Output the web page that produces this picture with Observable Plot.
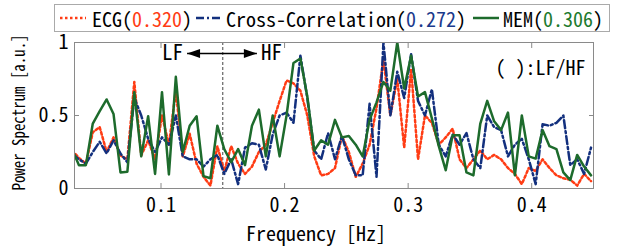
<!DOCTYPE html>
<html><head><meta charset="utf-8">
<script src="https://cdn.jsdelivr.net/npm/d3@7"></script>
<script src="https://cdn.jsdelivr.net/npm/@observablehq/plot@0.6"></script>
<style>
html,body{margin:0;padding:0;background:#fff;}
#wrap{position:relative;width:621px;height:249px;overflow:hidden;}
#legend{position:absolute;left:54px;top:4px;width:556px;height:28px;box-sizing:border-box;border:1px solid #aaa;background:#fff;display:flex;align-items:center;padding-left:5px;font-family:"Noto Sans Mono CJK JP","Noto Sans CJK JP",monospace;font-size:20px;color:#000;white-space:nowrap;}
#legend svg{flex:none;}
#legend span{display:inline-block;}
</style>
</head><body>
<div id="wrap"><div id="legend"></div></div>
<script>
// ---- data ----
const seriesNames = ["ECG", "Cross-Correlation", "MEM"];
const lfhfRatio = ["0.320", "0.272", "0.306"];
const xTicks = [0.1, 0.2, 0.3, 0.4];
const yTicks = [0, 0.5, 1];
// frequency bins k = 5 .. 80, bin width 0.0056 Hz
const binIndex = d3.range(5, 81);
const freq = binIndex.map(k => +(k * 0.0056).toFixed(4));
const ecg = [
  0.26,0.21,0.17,0.385,0.42,0.25,0.35,0.226,0.2,0.73,
  0.226,0.33,0.2,0.5,0.3,0.67,0.22,0.375,0.17,0.08,
  0.02,0.29,0.12,0.29,0.17,0.1,0.15,0.25,0.3,0.45,
  0.6,0.74,0.72,0.67,0.5,0.22,0.09,0.1,0.14,0.36,
  0.25,0.08,0.17,0.3,0.55,0.88,0.5,0.75,0.28,0.82,
  0.2,0.5,0.45,0.3,0.35,0.41,0.2,0.14,0.2,0.26,
  0.2,0.23,0.2,0.14,0.1,0.03,0.14,0.12,0.2,0.14,
  0.09,0.07,0.06,0.02,0.1,0.05
];
const crossCorr = [
  0.24,0.2,0.17,0.25,0.32,0.24,0.33,0.24,0.18,0.62,
  0.5,0.34,0.25,0.35,0.3,0.5,0.22,0.2,0.2,0.15,
  0.2,0.23,0.1,0.2,0.03,0.28,0.31,0.3,0.13,0.37,
  0.5,0.52,0.45,0.91,0.62,0.26,0.2,0.38,0.2,0.36,
  0.2,0.09,0.09,0.58,0.08,1.0,0.5,0.8,0.62,0.92,
  0.6,0.5,0.68,0.3,0.22,0.37,0.3,0.38,0.2,0.14,
  0.5,0.42,0.4,0.22,0.3,0.34,0.2,0.03,0.44,0.43,
  0.45,0.5,0.16,0.2,0.1,0.28
];
const mem = [
  0.27,0.16,0.16,0.445,0.53,0.61,0.51,0.11,0.115,0.66,
  0.22,0.495,0.10,0.66,0.096,0.765,0.25,0.43,0.495,0.085,
  0.07,0.43,0.27,0.18,0.27,0.16,0.43,0.54,0.22,0.5,
  0.22,0.5,0.86,0.89,0.63,0.26,0.33,0.30,0.47,0.35,
  0.36,0.30,0.22,0.47,0.59,0.73,0.67,1.0,0.685,0.91,
  0.63,0.66,0.48,0.29,0.125,0.365,0.365,0.11,0.09,0.445,
  0.6,0.46,0.4,0.52,0.09,0.5,0.22,0.205,0.40,0.29,
  0.27,0.11,0.057,0.23,0.15,0.09
];
const lfhfBoundary = 0.15;
const arrowLeft = 0.1211, arrowRight = 0.1776, arrowLevel = 0.925;

// ---- styles ----
const FONT = '"Noto Sans Mono CJK JP","Noto Sans CJK JP",monospace';
const RED = "#ff3c14", BLUE = "#13307e", GREEN = "#1d6b2c";
const styles = [
  {color: RED, dash: "2.5,2.5", numColor: "#ff3c14"},
  {color: BLUE, dash: "8,3,2,3", numColor: "#1b3a8c"},
  {color: GREEN, dash: null, numColor: "#1d7a2e"}
];
const seriesData = [ecg, crossCorr, mem];

const headRight = {draw(ctx){ctx.moveTo(0,0);ctx.lineTo(-13,-4.5);ctx.lineTo(-13,4.5);ctx.closePath();}};
const headLeft = {draw(ctx){ctx.moveTo(0,0);ctx.lineTo(13,-4.5);ctx.lineTo(13,4.5);ctx.closePath();}};

const lineMarks = seriesData.map((vals, s) => Plot.line(vals, {
  x: (d, i) => freq[i], y: d => d, stroke: styles[s].color, strokeWidth: 2.5,
  strokeDasharray: styles[s].dash || undefined, clip: true
}));

const chart = Plot.plot({
  width: 621, height: 249,
  marginLeft: 74, marginRight: 28, marginTop: 42, marginBottom: 61,
  style: {fontFamily: FONT, fontSize: "20px", color: "#000", background: "transparent", overflow: "visible"},
  x: {domain: [0.03, 0.45]},
  y: {domain: [0, 1]},
  marks: [
    Plot.ruleX([lfhfBoundary], {stroke: "#444", strokeDasharray: "3,2", strokeWidth: 1}),
    ...lineMarks,
    Plot.frame({stroke: "#8a8a8a"}),
    Plot.axisX(xTicks, {anchor: "bottom", tickSize: -5, tickPadding: 14, tickFormat: d3.format(".1f"), stroke: "#8a8a8a", label: null}),
    Plot.axisX(xTicks, {anchor: "top", tickSize: -5, tickFormat: () => "", stroke: "#8a8a8a", label: null}),
    Plot.axisY(yTicks, {anchor: "left", tickSize: -5, tickPadding: 11, tickFormat: d3.format("~g"), stroke: "#8a8a8a", label: null}),
    Plot.axisY(yTicks, {anchor: "right", tickSize: -5, tickFormat: () => "", stroke: "#8a8a8a", label: null}),
    Plot.link([0], {x1: arrowLeft, x2: arrowRight, y1: arrowLevel, y2: arrowLevel, stroke: "#000", strokeWidth: 1.5}),
    Plot.dot([0], {x: arrowLeft, y: arrowLevel, symbol: headLeft, fill: "#000", stroke: "none"}),
    Plot.dot([0], {x: arrowRight, y: arrowLevel, symbol: headRight, fill: "#000", stroke: "none"}),
    Plot.text(["LF"], {x: arrowLeft, y: arrowLevel, dx: -4, textAnchor: "end", fontSize: 21, fill: "#000"}),
    Plot.text(["HF"], {x: arrowRight, y: arrowLevel, dx: 4, textAnchor: "start", fontSize: 21, fill: "#000"}),
    Plot.text(["( ):LF/HF"], {frameAnchor: "top-right", dx: -8, dy: 18, textAnchor: "end", fill: "#000"}),
    Plot.text(["Power Spectrum [a.u.]"], {frameAnchor: "bottom-left", rotate: -90, dx: -50, dy: 2, textAnchor: "start", fontSize: 17, fill: "#000", className: "ytitle"}),
    Plot.text(["Frequency [Hz]"], {frameAnchor: "bottom", dx: -18, dy: 52, fill: "#000"})
  ]
});
document.getElementById("wrap").prepend(chart);
// compress the rotated y title slightly to the reference's narrow glyph width
d3.select(chart).selectAll(".ytitle text").attr("textLength", 156).attr("lengthAdjust", "spacingAndGlyphs");

// ---- legend ----
const leg = d3.select("#legend");
const gaps = [[0,6,4],[4,4,4],[7,4,0]];
seriesNames.forEach((name, s) => {
  const sv = leg.append("svg").attr("width", 26).attr("height", 10).style("margin-left", gaps[s][0] + "px").style("margin-right", gaps[s][1] + "px");
  const ln = sv.append("line").attr("x1", 0).attr("x2", 26).attr("y1", 5).attr("y2", 5)
    .attr("stroke", styles[s].color).attr("stroke-width", 2.5);
  if (styles[s].dash) ln.attr("stroke-dasharray", styles[s].dash);
  const sp = leg.append("span");
  sp.append("span").text(name + "(");
  sp.append("span").style("color", styles[s].numColor).text(lfhfRatio[s]);
  sp.append("span").text(")");
});
</script>
</body></html>
